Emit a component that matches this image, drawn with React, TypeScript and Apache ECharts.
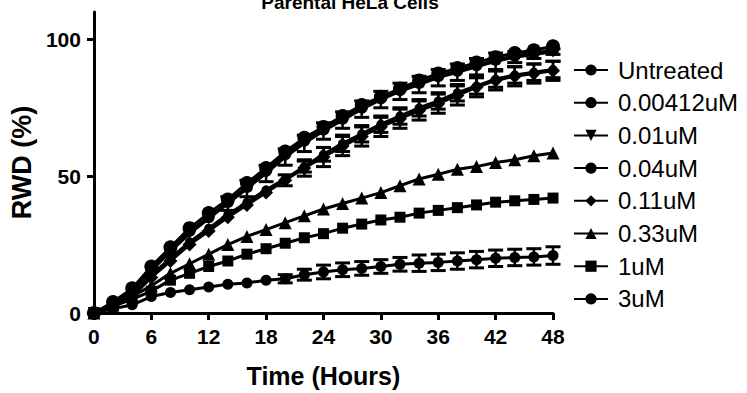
import React, { useEffect, useRef } from 'react';
import * as echarts from 'echarts';

const hours = [0, 2, 4, 6, 8, 10, 12, 14, 16, 18, 20, 22, 24, 26, 28, 30, 32, 34, 36, 38, 40, 42, 44, 46, 48];

const seriesNames = ['Untreated', '0.00412uM', '0.01uM', '0.04uM', '0.11uM', '0.33uM', '1uM', '3uM'];

const untreated = [0, 4, 9, 17, 24, 31, 36.5, 41.5, 47.5, 53, 59, 64, 68, 72, 76, 79, 82, 85, 87.5, 89.5, 91.5, 93.5, 95, 96, 97.5];
const c00412 = [0, 3.5, 8.5, 16, 23, 30, 35, 40.5, 46, 52, 58, 63, 67, 71, 75, 78.5, 81.5, 84, 86.5, 88.5, 90.5, 92.5, 94, 95, 96];
const c001 = [0, 3, 8, 15.5, 22.5, 29, 34.5, 40, 45.5, 51, 57, 62, 66.5, 70.5, 74.5, 78, 81, 83.5, 86, 88, 90, 92, 93.5, 94.5, 95.5];
const c004 = [0, 2.5, 6.5, 14, 20, 26, 31, 36, 40.5, 45, 49, 53.5, 58, 62, 65.5, 69, 72, 75, 77.5, 80.5, 83, 85.5, 87, 88, 89];
const c011 = [0, 2, 6, 13, 19, 25, 30, 35, 39.5, 44, 48.5, 53, 57, 61, 64.5, 68, 71, 74, 76.5, 79.5, 82.5, 85, 86.5, 87.5, 88.5];
const c033 = [0, 3, 6, 10, 14.5, 18, 21.5, 25, 28, 30.5, 33, 35.5, 38, 40, 42, 44, 46.5, 49, 50.7, 52.5, 53.5, 55, 56, 57.5, 58.5];
const c1 = [0, 2.5, 5, 8, 12, 14.5, 17, 19, 21.5, 23.5, 25.5, 27.5, 29, 31, 32.5, 34, 35, 36.5, 37.5, 38.5, 39.5, 40.5, 41, 41.5, 42];
const c3 = [0, 1.5, 3, 6, 7.5, 8.5, 9.5, 10.5, 11, 12, 12.5, 14, 15, 15.8, 16.3, 17, 17.8, 18.2, 18.5, 19, 19.5, 20, 20.3, 20.5, 21];

// error bar half-heights (SEM)
const err001 = [0, 0, 0, 0, 0, 0, 0, 2.5, 3, 3, 3, 3, 3, 3, 3, 3, 3, 3, 3, 3, 3, 3, 2, 1.5, 1];
const err004 = [0, 0, 0, 0, 0, 0, 0, 0, 0, 0, 0, 2, 2.5, 3, 3, 3, 3, 3, 3, 3, 3, 3, 3, 3, 3];
const err011 = [0, 0, 0, 0, 0, 0, 0, 0, 0, 0, 2, 3, 3.5, 3.5, 3.5, 3.5, 3.5, 3.5, 3.5, 3.5, 3.5, 3.5, 3.5, 3.5, 3.5];
const err3 = [0, 0, 0, 0, 0, 0, 0, 0, 0, 0, 1.5, 2, 2.5, 2.5, 2.5, 2.5, 2.5, 3, 3, 3, 3, 3, 3, 3, 3.2];

const yTicks = [0, 50, 100];

const FONT = '"Liberation Sans", Arial, sans-serif';

export default function App() {
  const ref = useRef<HTMLDivElement>(null);
  useEffect(() => {
    if (!ref.current) return;
    const chart = echarts.init(ref.current, undefined, { renderer: 'svg' });

    const values = [untreated, c00412, c001, c004, c011, c033, c1, c3];
    const symbols = ['circle', 'circle', 'triangle', 'circle', 'diamond', 'triangle', 'rect', 'circle'];
    const sizes = [14, 12, 12, 9, 14, 13, 11, 11];
    const rotates = [0, 0, 180, 0, 0, 0, 0, 0];

    const lineSeries = values.map((vals, i) => ({
      name: seriesNames[i],
      type: 'line',
      data: hours.map((h, j) => [h, vals[j]]),
      symbol: symbols[i],
      symbolSize: sizes[i],
      symbolRotate: rotates[i],
      showAllSymbol: true,
      clip: false,
      lineStyle: { color: '#000', width: 3 },
      itemStyle: { color: '#000', borderWidth: 0 },
      z: 3,
    }));

    const errSets: [number[], number[], string][] = [
      [c001, err001, 'e1'],
      [c004, err004, 'e4'],
      [c011, err011, 'e2'],
      [c3, err3, 'e3'],
    ];
    const errSeries = errSets.map(([vals, errs, nm]) => ({
      name: nm,
      type: 'custom',
      clip: false,
      z: 2,
      encode: { x: 0, y: 1 },
      data: hours.map((h, j) => [h, vals[j], errs[j]]),
      renderItem: (params: any, api: any) => {
        const x = api.value(0);
        const y = api.value(1);
        const e = api.value(2);
        if (!e) return null;
        const top = api.coord([x, y + e]);
        const bot = api.coord([x, y - e]);
        const hw = 7.5;
        return {
          type: 'group',
          children: [
            { type: 'line', shape: { x1: top[0], y1: top[1], x2: bot[0], y2: bot[1] }, style: { stroke: '#000', lineWidth: 2.5 } },
            { type: 'line', shape: { x1: top[0] - hw, y1: top[1], x2: top[0] + hw, y2: top[1] }, style: { stroke: '#000', lineWidth: 3 } },
            { type: 'line', shape: { x1: bot[0] - hw, y1: bot[1], x2: bot[0] + hw, y2: bot[1] }, style: { stroke: '#000', lineWidth: 3 } },
          ],
        };
      },
    }));

    chart.setOption({
      animation: false,
      backgroundColor: '#fff',
      grid: { left: 93, right: 194, top: 12, bottom: 71, containLabel: false },
      graphic: [
        {
          type: 'text',
          x: 350,
          y: 12,
          style: {
            text: 'Parental HeLa Cells',
            font: `bold 19px ${FONT}`,
            fill: '#000',
            align: 'center',
            verticalAlign: 'bottom',
          },
        },
      ],
      legend: {
        data: seriesNames,
        orient: 'vertical',
        left: 568,
        top: 53,
        itemWidth: 34,
        itemHeight: 14,
        itemGap: 8.7,
        selectedMode: false,
        textStyle: { fontFamily: FONT, fontSize: 24, lineHeight: 24, color: '#000', padding: [0, 0, 0, 5] },
      },
      xAxis: {
        type: 'value',
        min: 0,
        max: 48,
        interval: 6,
        name: 'Time (Hours)',
        nameLocation: 'middle',
        nameGap: 50,
        nameTextStyle: { fontFamily: FONT, fontSize: 25, fontWeight: 'bold', color: '#000' },
        axisLine: { show: true, lineStyle: { color: '#000', width: 3 } },
        axisTick: { show: true, length: 7, lineStyle: { color: '#000', width: 3 } },
        axisLabel: { margin: 13, fontFamily: FONT, fontSize: 21, fontWeight: 'bold', color: '#000' },
        splitLine: { show: false },
      },
      yAxis: {
        type: 'value',
        min: 0,
        max: 110,
        name: 'RWD (%)',
        nameLocation: 'middle',
        nameGap: 57,
        nameTextStyle: { fontFamily: FONT, fontSize: 27, fontWeight: 'bold', color: '#000' },
        axisLine: { show: true, lineStyle: { color: '#000', width: 3 } },
        axisTick: { show: true, length: 7, customValues: yTicks, lineStyle: { color: '#000', width: 3 } },
        axisLabel: { margin: 13, customValues: yTicks, fontFamily: FONT, fontSize: 21, fontWeight: 'bold', color: '#000' },
        splitLine: { show: false },
      },
      series: [...errSeries, ...lineSeries],
    });
    return () => chart.dispose();
  }, []);
  return <div ref={ref} style={{ width: 747, height: 393, position: 'absolute', left: 0, top: 0 }} />;
}
